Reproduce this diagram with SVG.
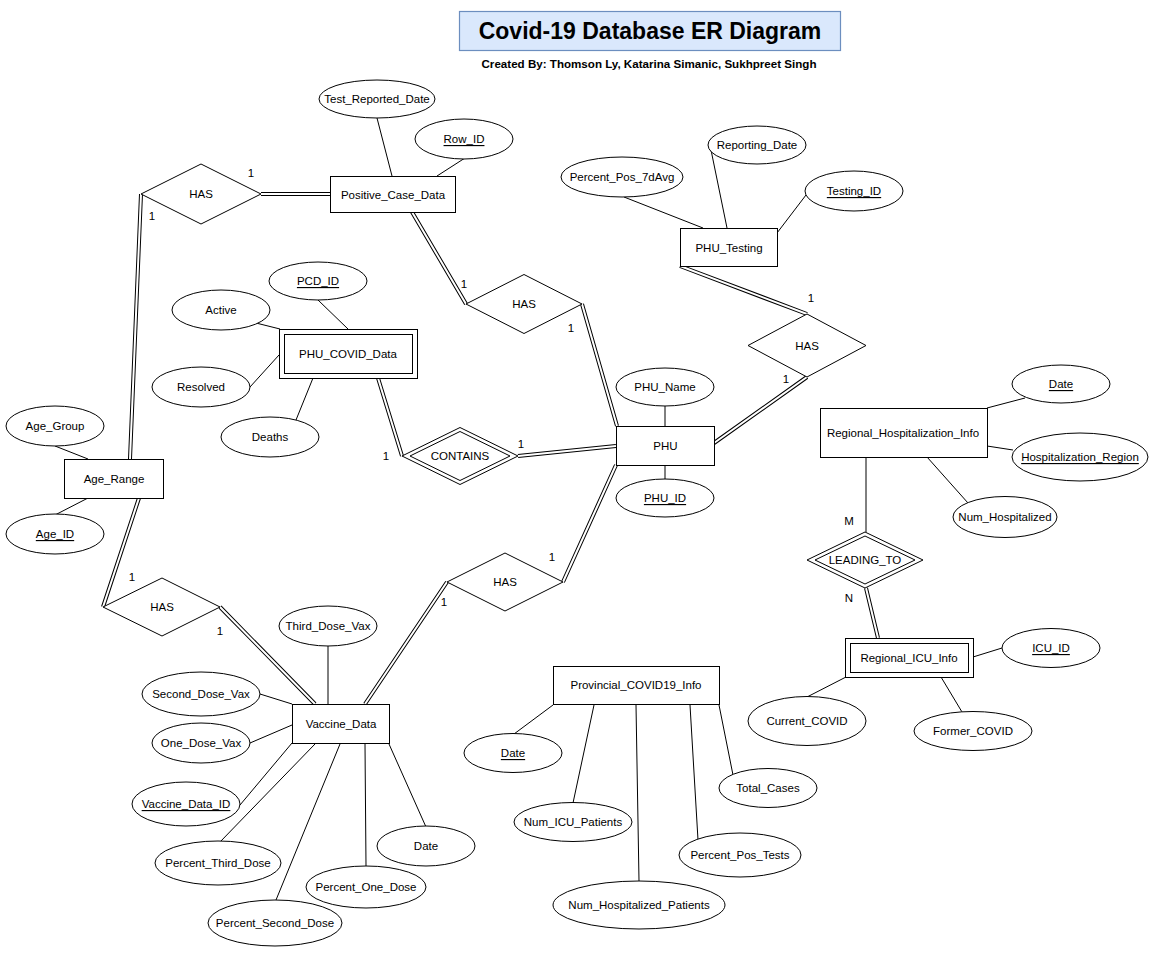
<svg xmlns="http://www.w3.org/2000/svg" width="1150" height="969" viewBox="0 0 1150 969">
<style>
text{font-family:"Liberation Sans",Arial,sans-serif;font-size:11.5px;fill:#000;text-anchor:middle;dominant-baseline:central}
.u{text-decoration:underline}
.s{fill:#fff;stroke:#000;stroke-width:1}
.l{stroke:#000;stroke-width:1;fill:none}
.db{stroke:#000;stroke-width:4;fill:none}
.dw{stroke:#fff;stroke-width:2;fill:none}
.lab{font-size:11.5px}
</style>
<rect width="1150" height="969" fill="#fff"/>
<g id="title">
<rect x="459.5" y="11.5" width="381" height="39" fill="#dae8fc" stroke="#6c8ebf" stroke-width="1.2"/>
<text x="650" y="31" style="font-size:23px;font-weight:bold">Covid-19 Database ER Diagram</text>
<text x="649" y="63" style="font-size:11.6px;font-weight:bold">Created By: Thomson Ly, Katarina Simanic, Sukhpreet Singh</text>
</g>
<g id="connectors">
<g class="single">
<path class="l" d="M377,118 L392,176 M465,158 L437,176 M624,197 L703,228 M711,150 L727,228 M806,195 L777,233 M256,323 L280,329 M318,300 L348,329 M250,387 L279,355 M296,420 L313,378 M55,446 L88,459 M55,515 L88,498 M665,406 L665,426 M665,465 L665,479 M1025,398 L987,408 M1013,450 L987,446 M968,503 L927,457 M866,457 L866,532 M1002,648 L973,657 M807,697 L846,677 M962,712 L941,677 M328,646 L328,704 M260,694 L292,704 M250,743 L292,725 M240,805 L292,743 M220,842 L315,744 M276,900 L340,744 M366,866 L365,744 M426,827 L389,744 M514,734 L553,705 M573,803 L594,705 M639,881 L636,705 M698,840 L690,705 M733,775 L719,705"/>
</g>
<g class="double">
<path class="db" d="M261,194 L330,194 M141,194 L130,459 M412,212 L466,304 M582,304 L617,426 M378,378 L402,456 M518,456 L616,446 M680,266 L807,314 M807,377 L714,443 M866,588 L878,638 M139,498 L103,607 M220,607 L315,704 M616,465 L563,582 M447,582 L365,704"/>
<path class="dw" d="M261,194 L330,194 M141,194 L130,459 M412,212 L466,304 M582,304 L617,426 M378,378 L402,456 M518,456 L616,446 M680,266 L807,314 M807,377 L714,443 M866,588 L878,638 M139,498 L103,607 M220,607 L315,704 M616,465 L563,582 M447,582 L365,704"/>
</g>
<g class="cardinality">
<text class="lab" x="251" y="173">1</text>
<text class="lab" x="152" y="216">1</text>
<text class="lab" x="464" y="284">1</text>
<text class="lab" x="571" y="328">1</text>
<text class="lab" x="386" y="456">1</text>
<text class="lab" x="521" y="444">1</text>
<text class="lab" x="811" y="298">1</text>
<text class="lab" x="786" y="379">1</text>
<text class="lab" x="849" y="521">M</text>
<text class="lab" x="849" y="598">N</text>
<text class="lab" x="132" y="577">1</text>
<text class="lab" x="220" y="631">1</text>
<text class="lab" x="552" y="557">1</text>
<text class="lab" x="444" y="602">1</text>
</g>
</g>
<g id="Positive_Case_Data"><rect class="s" x="330.5" y="176.5" width="125" height="36"/><text x="393" y="194.5">Positive_Case_Data</text></g>
<g id="Test_Reported_Date"><ellipse class="s" cx="377" cy="99" rx="58" ry="19"/><text x="377" y="99">Test_Reported_Date</text></g>
<g id="Row_ID"><ellipse class="s" cx="464" cy="139" rx="49" ry="20"/><text class="u" x="464" y="139">Row_ID</text></g>
<g id="HAS_top"><polygon class="s" points="141,194 201,164 261,194 201,224"/><text x="201" y="194">HAS</text></g>
<g id="PHU_Testing"><rect class="s" x="680.5" y="228.5" width="97" height="38"/><text x="729" y="247.5">PHU_Testing</text></g>
<g id="Percent_Pos_7dAvg"><ellipse class="s" cx="622" cy="177" rx="61" ry="20"/><text x="622" y="177">Percent_Pos_7dAvg</text></g>
<g id="Reporting_Date"><ellipse class="s" cx="757" cy="145" rx="49" ry="19"/><text x="757" y="145">Reporting_Date</text></g>
<g id="Testing_ID"><ellipse class="s" cx="854" cy="191" rx="49" ry="20"/><text class="u" x="854" y="191">Testing_ID</text></g>
<g id="HAS_mid"><polygon class="s" points="466,304 524,274.5 582,304 524,333.5"/><text x="524" y="304">HAS</text></g>
<g id="HAS_right"><polygon class="s" points="748,345.5 807,314 866,345.5 807,377"/><text x="807" y="345.5">HAS</text></g>
<g id="PHU_COVID_Data"><rect class="s" x="279.5" y="329.5" width="138" height="49"/><rect class="s" x="284.5" y="334.5" width="128" height="39"/><text x="348" y="353.5">PHU_COVID_Data</text></g>
<g id="PCD_ID"><ellipse class="s" cx="318" cy="281" rx="49" ry="19"/><text class="u" x="318" y="281">PCD_ID</text></g>
<g id="Active"><ellipse class="s" cx="221" cy="310" rx="49" ry="20"/><text x="221" y="310">Active</text></g>
<g id="Resolved"><ellipse class="s" cx="201" cy="387" rx="49" ry="20"/><text x="201" y="387">Resolved</text></g>
<g id="Deaths"><ellipse class="s" cx="270" cy="437" rx="49" ry="20"/><text x="270" y="437">Deaths</text></g>
<g id="CONTAINS"><polygon class="s" points="402,456 460,427.5 518,456 460,484.5"/><polygon class="s" points="410,456 460,431.5 510,456 460,480.5"/><text x="460" y="456">CONTAINS</text></g>
<g id="PHU"><rect class="s" x="616.5" y="426.5" width="98" height="39"/><text x="665.5" y="445.5">PHU</text></g>
<g id="PHU_Name"><ellipse class="s" cx="665" cy="387" rx="49" ry="19"/><text x="665" y="387">PHU_Name</text></g>
<g id="PHU_ID"><ellipse class="s" cx="665" cy="498" rx="49" ry="19"/><text class="u" x="665" y="498">PHU_ID</text></g>
<g id="Age_Range"><rect class="s" x="64.5" y="459.5" width="99" height="39"/><text x="114" y="479">Age_Range</text></g>
<g id="Age_Group"><ellipse class="s" cx="55" cy="426" rx="49" ry="20"/><text x="55" y="426">Age_Group</text></g>
<g id="Age_ID"><ellipse class="s" cx="55" cy="534" rx="49" ry="20"/><text class="u" x="55" y="534">Age_ID</text></g>
<g id="Regional_Hospitalization_Info"><rect class="s" x="820.5" y="408.5" width="167" height="49"/><text x="903" y="433">Regional_Hospitalization_Info</text></g>
<g id="RHI_Date"><ellipse class="s" cx="1061" cy="384" rx="49" ry="19"/><text class="u" x="1061" y="384">Date</text></g>
<g id="Hospitalization_Region"><ellipse class="s" cx="1080" cy="457" rx="68" ry="24"/><text class="u" x="1080" y="457">Hospitalization_Region</text></g>
<g id="Num_Hospitalized"><ellipse class="s" cx="1005" cy="517" rx="52" ry="20.5"/><text x="1005" y="517">Num_Hospitalized</text></g>
<g id="LEADING_TO"><polygon class="s" points="807,560 865,532 923,560 865,588"/><polygon class="s" points="815,560 865,536 915,560 865,584"/><text x="865" y="560">LEADING_TO</text></g>
<g id="Regional_ICU_Info"><rect class="s" x="845.5" y="638.5" width="128" height="39"/><rect class="s" x="850.5" y="643.5" width="118" height="29"/><text x="909" y="657.5">Regional_ICU_Info</text></g>
<g id="ICU_ID"><ellipse class="s" cx="1051" cy="648" rx="49" ry="19.5"/><text class="u" x="1051" y="648">ICU_ID</text></g>
<g id="Current_COVID"><ellipse class="s" cx="807" cy="721" rx="59" ry="24.5"/><text x="807" y="721">Current_COVID</text></g>
<g id="Former_COVID"><ellipse class="s" cx="973" cy="731" rx="59" ry="19.5"/><text x="973" y="731">Former_COVID</text></g>
<g id="HAS_bottom_left"><polygon class="s" points="103,607 162,578 220,607 162,636"/><text x="162" y="607">HAS</text></g>
<g id="HAS_bottom_mid"><polygon class="s" points="447,582 505,553 563,582 505,611"/><text x="505" y="582">HAS</text></g>
<g id="Vaccine_Data"><rect class="s" x="292.5" y="704.5" width="97" height="39"/><text x="341" y="723.5">Vaccine_Data</text></g>
<g id="Third_Dose_Vax"><ellipse class="s" cx="328" cy="626" rx="49" ry="20"/><text x="328" y="626">Third_Dose_Vax</text></g>
<g id="Second_Dose_Vax"><ellipse class="s" cx="201" cy="694" rx="59" ry="22"/><text x="201" y="694">Second_Dose_Vax</text></g>
<g id="One_Dose_Vax"><ellipse class="s" cx="201" cy="743" rx="49" ry="20"/><text x="201" y="743">One_Dose_Vax</text></g>
<g id="Vaccine_Data_ID"><ellipse class="s" cx="186" cy="804" rx="54" ry="22"/><text class="u" x="186" y="804">Vaccine_Data_ID</text></g>
<g id="Percent_Third_Dose"><ellipse class="s" cx="218" cy="863" rx="63" ry="22"/><text x="218" y="863">Percent_Third_Dose</text></g>
<g id="Percent_Second_Dose"><ellipse class="s" cx="275" cy="923" rx="67" ry="23"/><text x="275" y="923">Percent_Second_Dose</text></g>
<g id="Percent_One_Dose"><ellipse class="s" cx="366" cy="887" rx="60" ry="21"/><text x="366" y="887">Percent_One_Dose</text></g>
<g id="Vaccine_Date"><ellipse class="s" cx="426" cy="846" rx="49" ry="20"/><text x="426" y="846">Date</text></g>
<g id="Provincial_COVID19_Info"><rect class="s" x="553.5" y="666.5" width="166" height="38"/><text x="636" y="685">Provincial_COVID19_Info</text></g>
<g id="Prov_Date"><ellipse class="s" cx="513" cy="753" rx="49" ry="19.5"/><text class="u" x="513" y="753">Date</text></g>
<g id="Num_ICU_Patients"><ellipse class="s" cx="573" cy="822" rx="59" ry="19.5"/><text x="573" y="822">Num_ICU_Patients</text></g>
<g id="Num_Hospitalized_Patients"><ellipse class="s" cx="639" cy="905" rx="86" ry="24"/><text x="639" y="905">Num_Hospitalized_Patients</text></g>
<g id="Percent_Pos_Tests"><ellipse class="s" cx="740" cy="855" rx="61" ry="22"/><text x="740" y="855">Percent_Pos_Tests</text></g>
<g id="Total_Cases"><ellipse class="s" cx="768" cy="788" rx="49" ry="19.5"/><text x="768" y="788">Total_Cases</text></g>
</svg>
